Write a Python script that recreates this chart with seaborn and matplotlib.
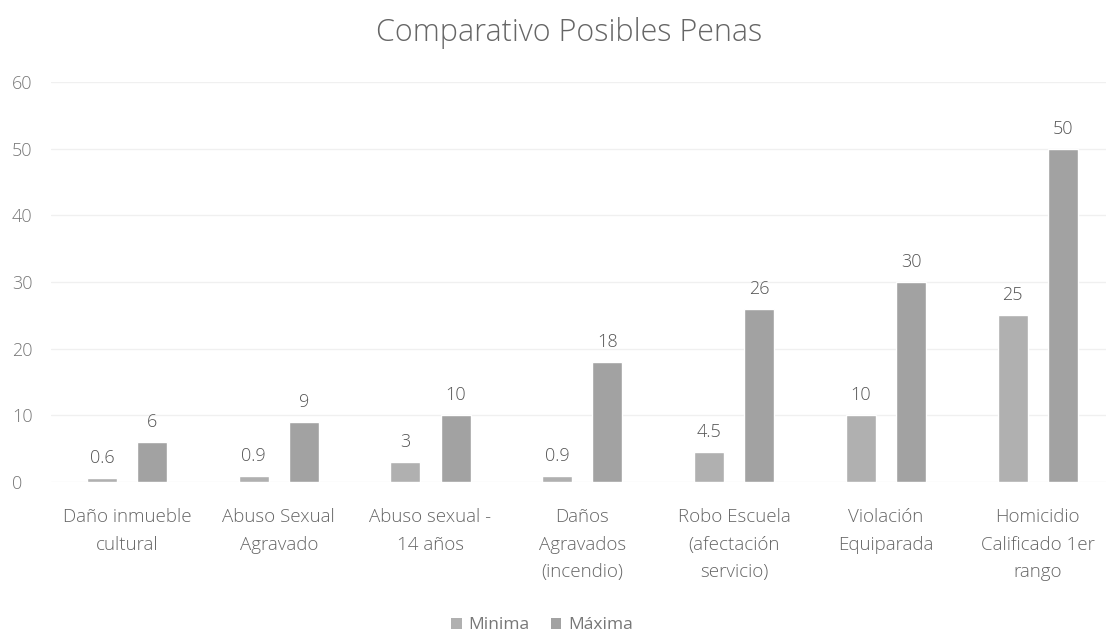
import matplotlib
matplotlib.use("Agg")
import matplotlib.pyplot as plt
import seaborn as sns
import pandas as pd
from matplotlib.patches import Patch

categories = ["Daño inmueble\ncultural", "Abuso Sexual\nAgravado", "Abuso sexual -\n14 años",
              "Daños\nAgravados\n(incendio)", "Robo Escuela\n(afectación\nservicio)",
              "Violación\nEquiparada", "Homicidio\nCalificado 1er\nrango"]
minima = [0.6, 0.9, 3, 0.9, 4.5, 10, 25]
maxima = [6, 9, 10, 18, 26, 30, 50]
series_names = ["Minima", "Máxima"]
yticks = [0, 10, 20, 30, 40, 50, 60]

df = pd.DataFrame({
    "cat": categories * 2,
    "serie": [series_names[0]] * len(categories) + [series_names[1]] * len(categories),
    "val": minima + maxima,
})

sns.set_style("white")
plt.rcParams['font.family'] = ['Open Sans', 'DejaVu Sans']

fig = plt.figure(figsize=(11.06, 6.36), dpi=100)
ax = fig.add_axes([51/1106, 154/636, 1055/1106, 400/636])

palette = {"Minima": "#b0b0b0", "Máxima": "#a2a2a2"}
sns.barplot(data=df, x="cat", y="val", hue="serie", palette=palette, ax=ax,
            width=0.66, gap=0.4, legend=False, saturation=1)

for cont in ax.containers:
    labels = [("%g" % v) for v in cont.datavalues]
    ax.bar_label(cont, labels=labels, padding=8, fontsize=13, color="#555555", fontweight="light")

ax.set_xlim(-0.5, 6.45)
ax.set_ylim(0, 60)
ax.set_yticks(yticks)
ax.yaxis.grid(True, color="#f0f0f0", linewidth=1)
ax.set_axisbelow(True)
for s in ax.spines.values():
    s.set_visible(False)
ax.set_xlabel("")
ax.set_ylabel("")
ax.tick_params(axis="y", length=0, labelsize=13, labelcolor="#777777", pad=28)
ax.tick_params(axis="x", length=0, labelsize=13.5, labelcolor="#666666", pad=19)
for t in ax.get_xticklabels():
    t.set_fontweight("light")
    t.set_va("top")
    t.set_linespacing(1.68)
for t in ax.get_yticklabels():
    t.set_fontweight("light")
    t.set_ha("left")

fig.text(0.515, 0.948, "Comparativo Posibles Penas", ha="center", va="center",
         fontsize=22, color="#666666", fontweight="light")

handles = [Patch(facecolor=palette[n], edgecolor="none", label=n) for n in series_names]
fig.legend(handles=handles, loc="center", bbox_to_anchor=(0.49, 0.017), ncol=2, frameon=False,
           fontsize=12.5, handlelength=0.6, handleheight=0.6, columnspacing=1.2, handletextpad=0.4,
           labelcolor="#777777")

fig.savefig("out.png", dpi=100, facecolor="white")
